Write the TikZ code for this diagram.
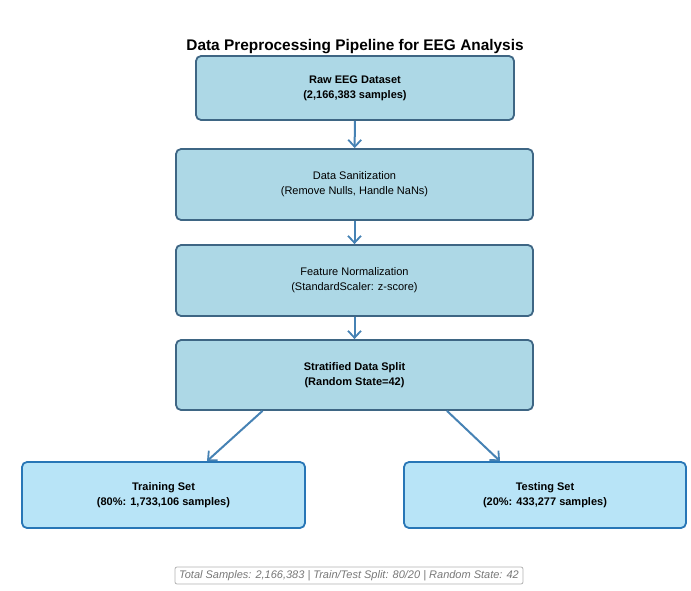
\documentclass[tikz,border=0pt]{standalone}
\usepackage{fontspec}
\setmainfont{Liberation Sans}
\usepackage{tikz}
\usetikzlibrary{arrows.meta, positioning}
\definecolor{stepfill}{RGB}{173,216,230}
\definecolor{stepedge}{RGB}{62,102,132}
\definecolor{setfill}{RGB}{184,228,247}
\definecolor{setedge}{RGB}{40,118,182}
\definecolor{flowblue}{RGB}{70,130,180}
\definecolor{notegray}{RGB}{120,120,120}

\begin{document}
\begin{tikzpicture}[
    x=1pt, y=-1pt,
    every node/.style={font=\fontsize{11}{15}\selectfont, align=center},
    stepbox/.style={rectangle, draw=stepedge, fill=stepfill, line width=1.8pt, rounded corners=5pt, minimum width=357pt, minimum height=71pt, inner sep=0pt},
    setbox/.style={rectangle, draw=setedge, fill=setfill, line width=1.8pt, rounded corners=5pt, minimum width=283pt, minimum height=66pt, inner sep=0pt},
    flow/.style={-{Straight Barb[length=7pt, width=13pt, line width=1.8pt]}, line width=2pt, flowblue}
]
\useasboundingbox (0,0) rectangle (691,591);

\node[font=\fontsize{15.4}{18}\selectfont\bfseries] (title) at (355,46.5) {Data Preprocessing Pipeline for EEG Analysis};

\node[stepbox, minimum width=318pt, minimum height=64pt, font=\fontsize{11}{15}\selectfont\bfseries] (raw) at (355,88) {Raw EEG Dataset\\(2,166,383 samples)};
\node[stepbox] (clean) at (354.5,184.5) {Data Sanitization\\(Remove Nulls, Handle NaNs)};
\node[stepbox] (norm) at (354.5,280.5) {Feature Normalization\\(StandardScaler: z-score)};
\node[stepbox, minimum height=70pt, font=\fontsize{11}{15}\selectfont\bfseries] (split) at (354.5,375) {Stratified Data Split\\(Random State=42)};

\node[setbox, font=\fontsize{11}{15}\selectfont\bfseries] (train) at (163.5,495) {Training Set\\(80\%: 1,733,106 samples)};
\node[setbox, minimum width=282pt, font=\fontsize{11}{15}\selectfont\bfseries] (test) at (545,495) {Testing Set\\(20\%: 433,277 samples)};

\draw[flow] (raw) -- (clean);
\draw[flow] (clean) -- (norm);
\draw[flow] (norm) -- (split);
\draw[flow] ([xshift=-92pt]split.south) -- ([xshift=43.5pt]train.north);
\draw[flow] ([xshift=92.5pt]split.south) -- ([xshift=-45pt]test.north);

\node[draw=gray!60, fill=white, rounded corners=2pt, line width=0.8pt, minimum width=348pt, minimum height=17pt, inner sep=1pt, text=notegray, font=\fontsize{11}{12}\selectfont\itshape] (note) at (349,575.5) {Total Samples: 2,166,383 | Train/Test Split: 80/20 | Random State: 42};
\end{tikzpicture}
\end{document}
